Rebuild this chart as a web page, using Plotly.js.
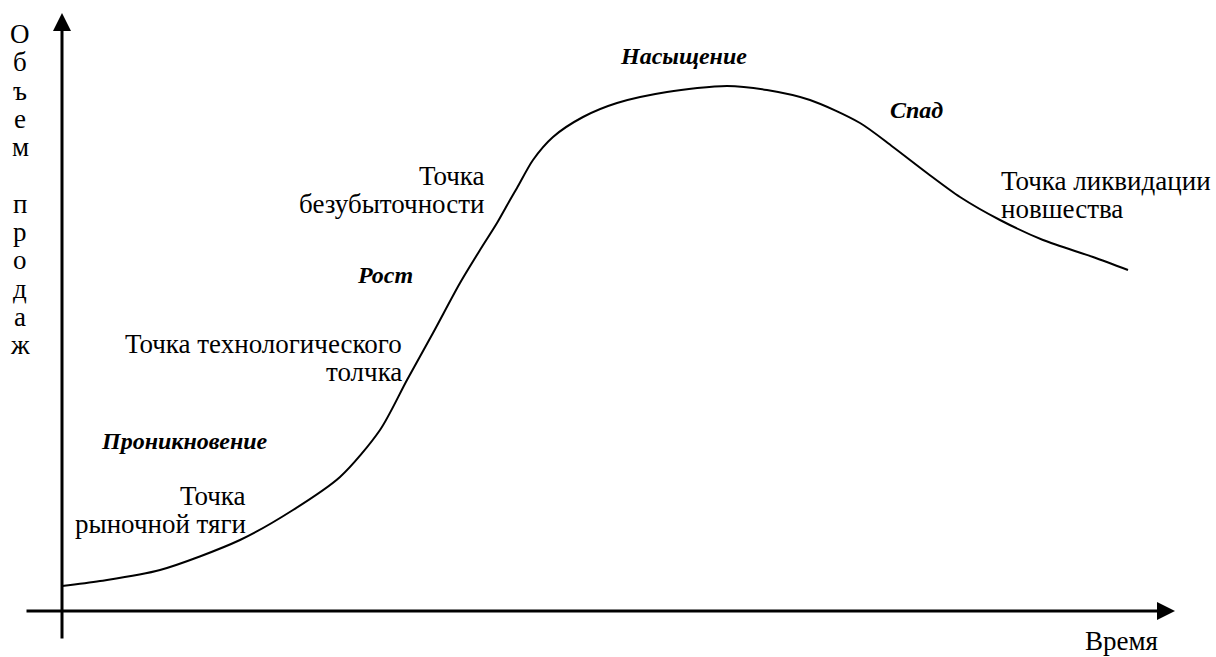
<!DOCTYPE html>
<html>
<head>
<meta charset="utf-8">
<script src="https://cdn.plot.ly/plotly-3.0.1.min.js"></script>
<style>html,body{margin:0;padding:0;background:#fff;}#chart{width:1216px;height:657px;}</style>
</head>
<body>
<div id="chart"></div>
<script>
// Life cycle curve: time (x) vs sales volume (y)
const time   = [0, 38, 98, 178, 231, 278, 318, 345, 371, 398, 418, 435, 448, 455, 471, 491, 521, 555, 605, 665, 705, 748, 798, 831, 865, 898, 938, 981, 1031, 1066];
const volume = [25, 30, 41, 71, 101, 134, 181, 231, 278, 328, 361, 388, 411, 423, 451, 474, 494, 508, 519, 525, 521, 511, 488, 464, 438, 414, 391, 371, 354, 341];

// Stage names (bold italic)
const stageNames = ["Насыщение", "Спад", "Рост", "Проникновение"];
// Point labels (each a list of lines)
const pointNames = [
  ["Точка", "безубыточности"],
  ["Точка технологического", "толчка"],
  ["Точка", "рыночной тяги"],
  ["Точка ликвидации", "новшества"]
];
const yTitle = "Объем продаж";
const xTitle = "Время";

// ---- placement (layout, not data) ----
const stagePos = [[621, 555], [854, 501], [323, 336], [122, 170]];
const pointPos = [[424, 435], [341, 267], [185, 115], [938, 430]];
const pointAnchor = ["right", "right", "right", "left"];
const LINE_STEP = 28.3;
const FONT = "Liberation Serif, Times New Roman, serif";
const REG = 27, BI = 24;

const annotations = [];
stageNames.forEach((s, i) => annotations.push({
  x: stagePos[i][0], y: stagePos[i][1], xref: 'x', yref: 'y', showarrow: false,
  text: '<b><i>' + s + '</i></b>', font: {family: FONT, size: BI, color: '#000'},
  xanchor: 'center', yanchor: 'middle', borderpad: 0
}));
pointNames.forEach((lines, i) => lines.forEach((ln, j) => annotations.push({
  x: pointPos[i][0], y: pointPos[i][1] - j * LINE_STEP, xref: 'x', yref: 'y', showarrow: false,
  text: ln, font: {family: FONT, size: REG, color: '#000'},
  xanchor: pointAnchor[i], yanchor: 'middle', borderpad: 0
})));
// vertical axis title, one letter per line (the space becomes an empty line)
yTitle.split('').forEach((c, i) => {
  if (c === ' ') return;
  annotations.push({
    x: -42, y: 577 - i * LINE_STEP, xref: 'x', yref: 'y', showarrow: false,
    text: c, font: {family: FONT, size: REG, color: '#000'},
    xanchor: 'center', yanchor: 'middle', borderpad: 0
  });
});
annotations.push({
  x: 1059, y: -30, xref: 'x', yref: 'y', showarrow: false,
  text: xTitle, font: {family: FONT, size: REG, color: '#000'}, xanchor: 'center', yanchor: 'middle', borderpad: 0
});
// axis arrows
annotations.push({
  x: 0, y: 598, ax: 0, ay: -29, xref: 'x', yref: 'y', axref: 'x', ayref: 'y',
  text: '', showarrow: true, arrowhead: 2, arrowwidth: 3, arrowsize: 1.2, arrowcolor: '#000', standoff: 0
});
annotations.push({
  x: 1113, y: 0, ax: -37, ay: 0, xref: 'x', yref: 'y', axref: 'x', ayref: 'y',
  text: '', showarrow: true, arrowhead: 2, arrowwidth: 3, arrowsize: 1.2, arrowcolor: '#000', standoff: 0
});

const trace = {
  x: time, y: volume, type: 'scatter', mode: 'lines',
  line: {color: '#000', width: 2, shape: 'spline', smoothing: 0.8},
  hoverinfo: 'skip'
};

const layout = {
  width: 1216, height: 657,
  margin: {l: 0, r: 0, t: 0, b: 0},
  paper_bgcolor: '#fff', plot_bgcolor: '#fff',
  showlegend: false,
  xaxis: {range: [-62, 1154], visible: false, fixedrange: true},
  yaxis: {range: [-46, 611], visible: false, fixedrange: true},
  annotations: annotations
};

Plotly.newPlot('chart', [trace], layout, {displayModeBar: false, staticPlot: true});
</script>
</body>
</html>
